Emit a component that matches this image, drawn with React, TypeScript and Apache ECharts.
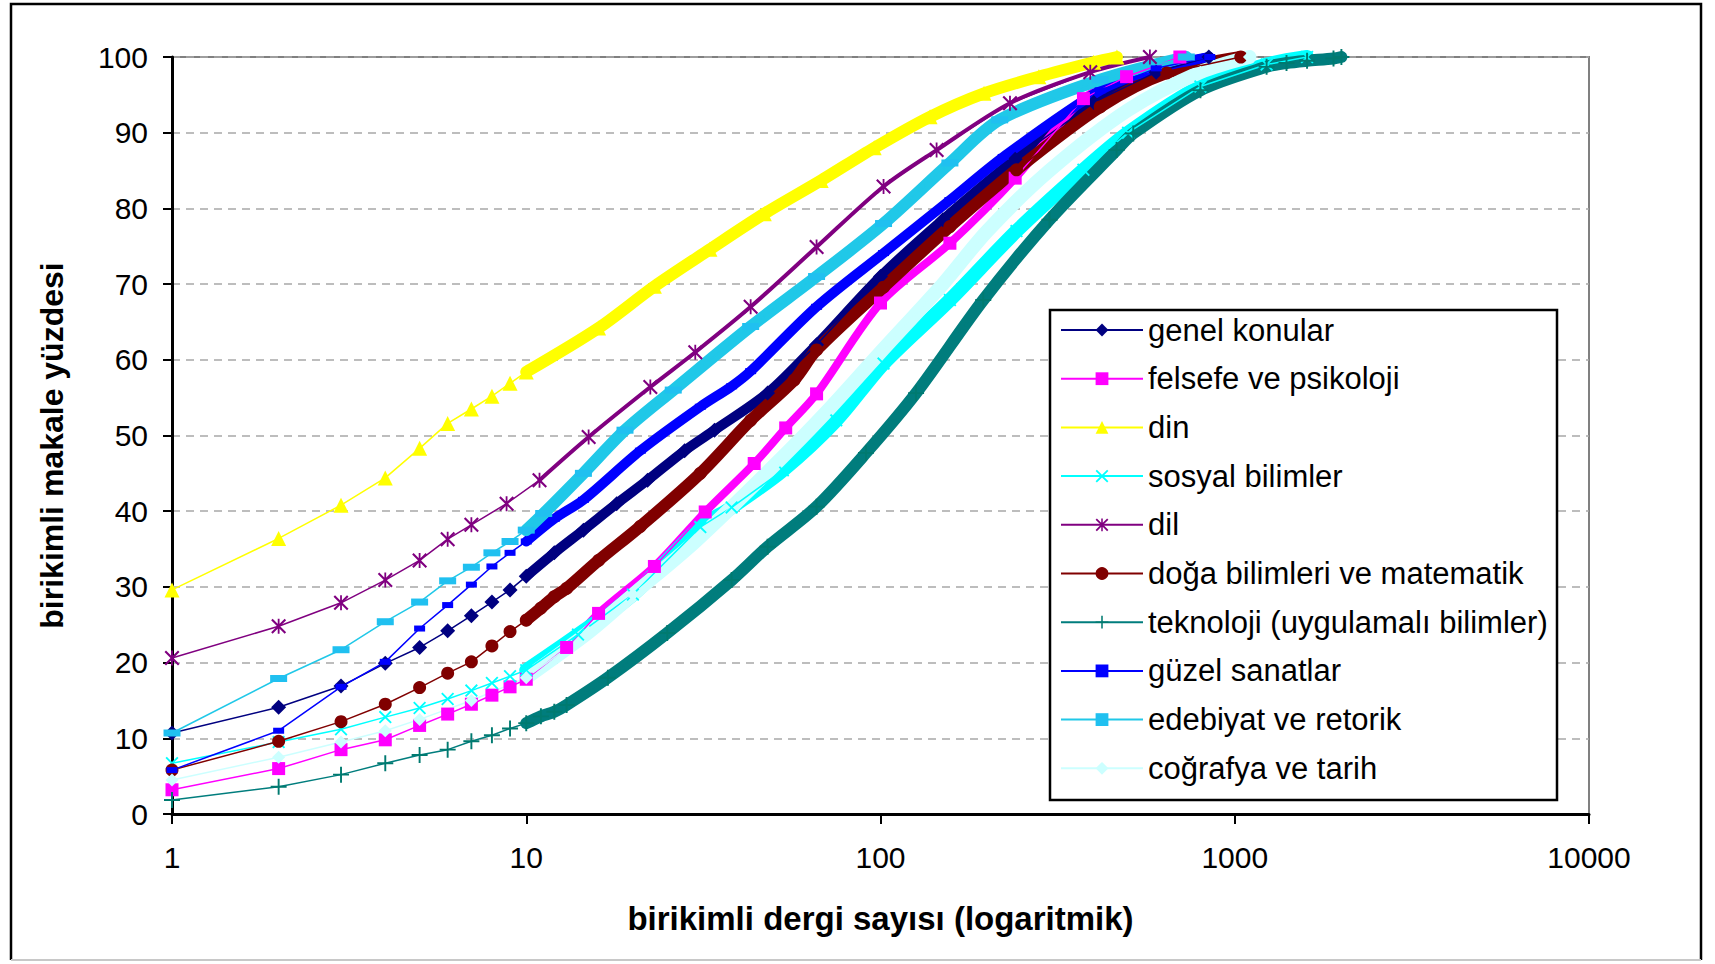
import React, { useEffect, useRef } from "react";
import * as echarts from "echarts";

type Pt = [number, number];

const seriesNames = [
  "genel konular",
  "felsefe ve psikoloji",
  "din",
  "sosyal bilimler",
  "dil",
  "doğa bilimleri ve matematik",
  "teknoloji (uygulamalı bilimler)",
  "güzel sanatlar",
  "edebiyat ve retorik",
  "coğrafya ve tarih",
];

const genelKonular: Pt[] = [[1,10.7],[2,14.1],[3,16.9],[4,19.9],[5,22.0],[6,24.2],[7,26.2],[8,28.0],[9,29.6],[10,31.4],[12,34.5],[14.5,37.5],[18,41],[22,44.1],[28,48],[34,50.7],[48,55.6],[66,62],[100,71],[150,78.5],[240,86.5],[400,94],[600,98],[845,100]];
const felsefePsikoloji: Pt[] = [[1,3.2],[2,6.0],[3,8.5],[4,9.8],[5,11.7],[6,13.2],[7,14.5],[8,15.7],[9,16.8],[10,17.8],[13,22],[16,26.5],[23,32.7],[32,39.9],[44,46.3],[54,51],[66,55.5],[100,67.5],[157,75.4],[240,84],[374,94.5],[495,97.4],[700,100]];
const din: Pt[] = [[1,29.6],[2,36.4],[3,40.8],[4,44.4],[5,48.3],[6,51.6],[7,53.5],[8,55.2],[9,56.9],[10,58.4],[16,64.2],[23,69.7],[33,74.6],[47,79.3],[68,83.7],[96,88],[138,92.1],[196,95.2],[280,97.4],[400,99.3],[465,100]];
const sosyalBilimler: Pt[] = [[1,6.7],[2,9.5],[3,11.2],[4,12.8],[5,14],[6,15.2],[7,16.3],[8,17.3],[9,18.2],[10,19],[14,23.7],[20,29],[31,37.9],[38,40.5],[53,45.4],[75,52],[102,59.5],[157,67.9],[242,77],[374,85.1],[500,90],[800,96.1],[1230,99],[1600,100]];
const dil: Pt[] = [[1,20.6],[2,24.8],[3,27.9],[4,30.9],[5,33.5],[6,36.3],[7,38.2],[8.8,41],[10.9,44.1],[15,49.8],[22.4,56.4],[30,61],[43,67],[66,74.9],[102,82.9],[144,87.7],[232,93.9],[391,98],[576,100]];
const dogaBilimleri: Pt[] = [[1,5.8],[2,9.6],[3,12.2],[4,14.5],[5,16.7],[6,18.6],[7,20.1],[8,22.2],[9,24.1],[10,25.6],[11,27.2],[12,28.7],[13,29.8],[16,33.5],[21,38],[31,45],[43,52],[57,57.3],[66,61.3],[102,69.6],[157,77.6],[242,85.1],[417,93.4],[643,97.9],[1040,100]];
const teknoloji: Pt[] = [[1,1.85],[2,3.6],[3,5.2],[4,6.7],[5,7.8],[6,8.5],[7,9.6],[8,10.4],[9,11.3],[10,12],[11,12.9],[12,13.5],[13,14.4],[17,18],[25,23.9],[38,30.9],[48,35.3],[66,40.6],[91,47.7],[126,55.6],[195,67.9],[300,78.5],[464,87.7],[517,89.9],[800,95.6],[1230,98.7],[1400,99.2],[1600,99.5],[1900,99.8],[2000,100]];
const guzelSanatlar: Pt[] = [[1,5.8],[2,11],[3,16.8],[4,20.1],[5,24.5],[6,27.6],[7,30.3],[8,32.7],[9,34.5],[10,36],[12,39],[14.5,41.5],[21,48],[31,53.8],[38,56.5],[43,58.5],[66,67],[102,74.1],[157,81.1],[222,86.8],[417,95.6],[600,98.5],[850,100]];
const edebiyatRetorik: Pt[] = [[1,10.7],[2,17.9],[3,21.7],[4,25.4],[5,28],[6,30.8],[7,32.6],[8,34.5],[9,36],[10,37.5],[11.2,39.7],[14.5,45],[19,50.7],[26,56],[43,64.4],[66,71],[102,78],[157,86],[217,91.7],[417,97],[730,100]];
const cografyaTarih: Pt[] = [[1,4.5],[2,7.5],[3,9.5],[4,11],[5,12.5],[7,15],[10,18],[15,24],[20,29],[30,36],[50,46],[70,53],[100,61],[150,70],[200,77],[300,85],[500,93],[800,98],[1100,100]];

const seriesData: Pt[][] = [genelKonular, felsefePsikoloji, din, sosyalBilimler, dil, dogaBilimleri, teknoloji, guzelSanatlar, edebiyatRetorik, cografyaTarih];

const X_PATH = "path://M0,1 L1,0 L5,4 L9,0 L10,1 L6,5 L10,9 L9,10 L5,6 L1,10 L0,9 L4,5 Z";
const STAR_PATH = "path://M0,1 L1,0 L5,4 L9,0 L10,1 L6,5 L10,9 L9,10 L5,6 L1,10 L0,9 L4,5 Z M4.4,0 L5.6,0 L5.6,10 L4.4,10 Z";
const PLUS_PATH = "path://M4.4,0 L5.6,0 L5.6,4.4 L10,4.4 L10,5.6 L5.6,5.6 L5.6,10 L4.4,10 L4.4,5.6 L0,5.6 L0,4.4 L4.4,4.4 Z";

const styles = [
  { color: "#000080", line: "#000080", symbol: "diamond", size: 15, lw: 1.5, band: 10 },
  { color: "#FF00FF", line: "#FF00FF", symbol: "rect", size: 13, lw: 1.5, band: 8 },
  { color: "#FFFF00", line: "#FFFF00", symbol: "triangle", size: 15, lw: 1.5, band: 12 },
  { color: "#00FFFF", line: "#00FFFF", symbol: X_PATH, size: 13, lw: 1.5, band: 14 },
  { color: "#800080", line: "#800080", symbol: STAR_PATH, size: 15, lw: 1.5, band: 4 },
  { color: "#800000", line: "#800000", symbol: "circle", size: 13, lw: 1.5, band: 12 },
  { color: "#007A70", line: "#007D7D", symbol: PLUS_PATH, size: 16, lw: 1.5, band: 12 },
  { color: "#0000FF", line: "#0000FF", symbol: "rect", size: [11, 6], lw: 1.5, band: 10 },
  { color: "#20C0F0", line: "#20C8E8", symbol: "rect", size: [17, 7], lw: 1.5, band: 12 },
  { color: "#CCFFFF", line: "#CCFFFF", symbol: "diamond", size: 13, lw: 1.5, band: 14 },
];

const FONT = "'Liberation Sans', Arial, sans-serif";

export default function App() {
  const ref = useRef<HTMLDivElement>(null);

  useEffect(() => {
    if (!ref.current) return;
    const chart = echarts.init(ref.current, null, { renderer: "svg" });

    const series: any[] = [];
    seriesNames.forEach((name, i) => {
      const s = styles[i];
      series.push({
        name,
        type: "line",
        data: seriesData[i],
        symbol: s.symbol,
        symbolSize: s.size,
        symbolKeepAspect: true,
        showSymbol: true,
        showAllSymbol: true,
        itemStyle: { color: s.color },
        lineStyle: { color: s.line, width: s.lw },
        z: 3,
        silent: true,
      });
    });
    seriesNames.forEach((name, i) => {
      const s = styles[i];
      series.push({
        name,
        type: "line",
        data: seriesData[i].filter((p) => p[0] >= 10),
        showSymbol: false,
        symbol: "none",
        smooth: 0.3,
        itemStyle: { color: s.color },
        lineStyle: { color: s.line, width: s.band, cap: "round", join: "round" },
        z: 2,
        silent: true,
      });
    });

    const option: any = {
      animation: false,
      backgroundColor: "#ffffff",
      grid: {
        left: 172,
        right: 126,
        top: 57,
        bottom: 150,
        show: true,
        borderColor: "#808080",
        borderWidth: 2,
        backgroundColor: "transparent",
      },
      xAxis: {
        type: "log",
        logBase: 10,
        min: 1,
        max: 10000,
        name: "birikimli dergi sayısı (logaritmik)",
        nameLocation: "middle",
        nameGap: 88,
        nameTextStyle: { fontFamily: FONT, fontSize: 33, fontWeight: "bold", color: "#000" },
        axisLine: { show: true, lineStyle: { color: "#000", width: 3 } },
        axisTick: { show: true, length: 10, lineStyle: { color: "#000", width: 2 } },
        minorTick: { show: false },
        splitLine: { show: false },
        axisLabel: {
          fontFamily: FONT,
          fontSize: 30,
          color: "#000",
          margin: 28,
          formatter: (v: number) => String(Math.round(v)),
        },
      },
      yAxis: {
        type: "value",
        min: 0,
        max: 100,
        interval: 10,
        name: "birikimli makale yüzdesi",
        nameLocation: "middle",
        nameGap: 104,
        nameTextStyle: { fontFamily: FONT, fontSize: 32, fontWeight: "bold", color: "#000", padding: [0, 20, 0, 0] },
        axisLine: { show: true, lineStyle: { color: "#000", width: 3 } },
        axisTick: { show: true, length: 9, lineStyle: { color: "#000", width: 2 } },
        splitLine: { show: true, lineStyle: { color: "#a8a8a8", width: 1.5, type: [8, 6] } },
        axisLabel: { fontFamily: FONT, fontSize: 30, color: "#000", margin: 24 },
      },
      legend: {
        data: seriesNames,
        orient: "vertical",
        left: 1060,
        top: 313,
        padding: 0,
        itemWidth: 82,
        itemHeight: 16,
        itemGap: 14.7,
        z: 10,
        selectedMode: false,
        textStyle: { fontFamily: FONT, fontSize: 31, color: "#000", lineHeight: 34 },
      },
      graphic: [
        {
          type: "polyline",
          z: 0,
          silent: true,
          shape: { points: [[11, 960], [11, 4], [1701, 4], [1701, 960]] },
          style: { stroke: "#000", lineWidth: 2.5, fill: null },
        },
        {
          type: "line",
          z: 0,
          silent: true,
          shape: { x1: 11, y1: 960, x2: 1701, y2: 960 },
          style: { stroke: "#c8c8c8", lineWidth: 2 },
        },
        {
          type: "rect",
          z: 9,
          silent: true,
          shape: { x: 1050, y: 310, width: 507, height: 490 },
          style: { fill: "#ffffff", stroke: "#000", lineWidth: 2.5 },
        },
      ],
      series,
    };

    chart.setOption(option);
    return () => chart.dispose();
  }, []);

  return (
    <div
      ref={ref}
      style={{ position: "fixed", left: 0, top: 0, width: 1715, height: 964, background: "#fff" }}
    />
  );
}
